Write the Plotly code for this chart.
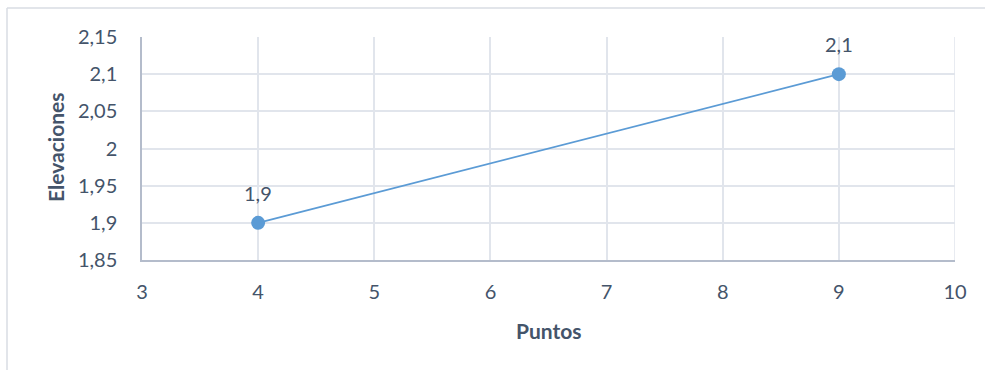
import plotly.graph_objects as go

# Survey points and their elevations
puntos = [4, 9]
elevaciones = [1.9, 2.1]

x_ticks = [3, 4, 5, 6, 7, 8, 9, 10]
y_ticks = [1.85, 1.9, 1.95, 2.0, 2.05, 2.1, 2.15]
y_ticklabels = ["1,85", "1,9", "1,95", "2", "2,05", "2,1", "2,15"]

TEXT = "#44546a"
GRID = "#e1e5ec"
AXIS = "#b4bccb"
BLUE = "#5b9bd5"
FONT = "Lato"
FS = 20

W, H = 985, 370
ML, MR, MT, MB = 142, 30, 37, 110
PW, PH = W - ML - MR, H - MT - MB


def px_x(px):
    return (px - ML) / PW


def px_y(py):
    return (H - MB - py) / PH


labels = [f"{v:g}".replace(".", ",") for v in elevaciones]

fig = go.Figure()
fig.add_trace(go.Scatter(
    x=puntos, y=elevaciones,
    mode="lines+markers",
    line=dict(color=BLUE, width=1.8),
    marker=dict(color=BLUE, size=14),
    showlegend=False,
    hoverinfo="skip",
))

# value labels above each point
for xv, yv, lab in zip(puntos, elevaciones, labels):
    fig.add_annotation(x=xv, y=yv, text=lab, showarrow=False,
                       xanchor="center", yanchor="middle", yshift=30,
                       font=dict(family=FONT, size=FS, color=TEXT))

# axis titles
fig.add_annotation(xref="paper", yref="paper", x=0.5, y=px_y(330),
                   xanchor="center", yanchor="middle",
                   text="<b>Puntos</b>", showarrow=False,
                   font=dict(family=FONT, size=21, color=TEXT))
fig.add_annotation(xref="paper", yref="paper", x=px_x(55), y=px_y(148),
                   xanchor="center", yanchor="middle",
                   text="<b>Elevaciones</b>", showarrow=False, textangle=-90,
                   font=dict(family=FONT, size=21, color=TEXT))

# chart area outline (left and top edges)
fig.add_shape(type="line", xref="paper", yref="paper",
              x0=px_x(7), y0=px_y(372), x1=px_x(7), y1=px_y(8),
              line=dict(color="#d9dde3", width=1.5))
fig.add_shape(type="line", xref="paper", yref="paper",
              x0=px_x(7), y0=px_y(8), x1=px_x(990), y1=px_y(8),
              line=dict(color="#d9dde3", width=1.5))

fig.update_layout(
    width=W, height=H,
    margin=dict(l=ML, r=MR, t=MT, b=MB),
    paper_bgcolor="white", plot_bgcolor="white",
    font=dict(family=FONT, size=FS, color=TEXT),
    xaxis=dict(range=[3, 10], tickvals=x_ticks, ticktext=[str(t) for t in x_ticks],
               showgrid=True, gridcolor=GRID, gridwidth=1.5,
               showline=True, linecolor=AXIS, linewidth=1.5,
               zeroline=False, ticks="", ticklabelstandoff=13,
               tickfont=dict(family=FONT, size=FS, color=TEXT)),
    yaxis=dict(range=[1.85, 2.15], tickvals=y_ticks, ticktext=y_ticklabels,
               showgrid=True, gridcolor=GRID, gridwidth=1.5,
               showline=True, linecolor=AXIS, linewidth=1.5,
               zeroline=False, ticks="", ticklabelstandoff=19,
               tickfont=dict(family=FONT, size=FS, color=TEXT)),
)
# right border of plot area
fig.add_shape(type="line", xref="x", yref="paper", x0=10, x1=10, y0=0, y1=1,
              line=dict(color=GRID, width=1.5))

fig.write_html("out.html")
